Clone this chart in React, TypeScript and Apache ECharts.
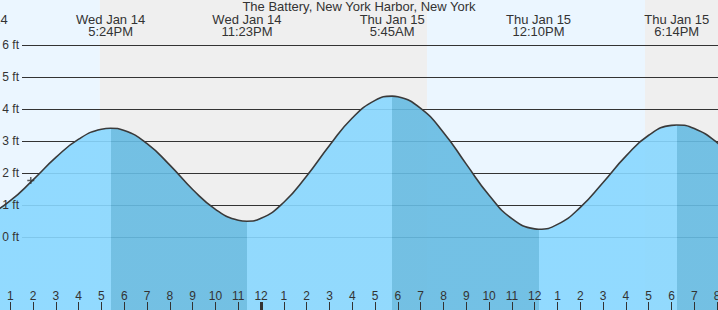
import React, { useEffect, useRef } from 'react';
import * as echarts from 'echarts';

const TITLE = 'The Battery, New York Harbor, New York';
const FONT = '"Liberation Sans", Arial, sans-serif';

// x values are hours counted from Wed Jan 14, 00:00
const X_MIN = 12.55;
const X_MAX = 44.04;
const Y_MIN = -2.27;
const Y_MAX = 7.4;

// tide height (ft)
const TIMES = [11, 11.2, 12, 13, 14, 15, 16, 17, 17.4, 18, 19, 20, 21, 22, 23, 23.38, 24, 25, 26, 27, 28, 29, 29.75, 30, 31, 32, 33, 34, 35, 36, 36.17, 37, 38, 39, 40, 41, 42, 42.23, 43, 44, 45];
const HEIGHTS = [0.61, 0.6, 0.71, 1.14, 1.79, 2.49, 3.06, 3.37, 3.4, 3.33, 2.92, 2.25, 1.49, 0.87, 0.53, 0.5, 0.59, 1.09, 1.91, 2.86, 3.72, 4.27, 4.4, 4.38, 4.02, 3.27, 2.28, 1.31, 0.58, 0.26, 0.25, 0.4, 0.93, 1.71, 2.53, 3.18, 3.49, 3.5, 3.39, 2.95, 2.27];

// high / low tide events
const EVENT_TIMES = [11.37, 17.4, 23.38, 29.75, 36.17, 42.23];
const EVENT_DATES = ['Wed Jan 14', 'Wed Jan 14', 'Wed Jan 14', 'Thu Jan 15', 'Thu Jan 15', 'Thu Jan 15'];
const EVENT_CLOCKS = ['11:22AM', '5:24PM', '11:23PM', '5:45AM', '12:10PM', '6:14PM'];

// day / night background
const BAND_STARTS = [11, 16.93, 31.28, 40.84];
const BAND_ENDS = [16.93, 31.28, 40.84, 46];
const BAND_IS_NIGHT = [0, 1, 0, 1];

const HOUR_TICKS = [13, 14, 15, 16, 17, 18, 19, 20, 21, 22, 23, 24, 25, 26, 27, 28, 29, 30, 31, 32, 33, 34, 35, 36, 37, 38, 39, 40, 41, 42, 43, 44];
const MIDNIGHT_TICKS = [24];
const FT_MIN = 0;
const FT_MAX = 6;

const NOW_POINT = [13.9, 1.77];

const DAY_BG = '#EBF6FF';
const NIGHT_BG = '#EFEFEF';
const WATER_RISING = '#88D7FF';
const WATER_FALLING = '#66BBE2';
const INK = '#333333';

export default function App() {
  const ref = useRef<HTMLDivElement>(null);

  useEffect(() => {
    document.body.style.margin = '0';
    if (!ref.current) return;
    const chart = echarts.init(ref.current, undefined, { renderer: 'svg' });

    const pieces: any[] = [{ lt: EVENT_TIMES[0], color: WATER_FALLING }];
    for (let i = 0; i < EVENT_TIMES.length - 1; i++) {
      pieces.push({ gte: EVENT_TIMES[i], lt: EVENT_TIMES[i + 1], color: i % 2 === 0 ? WATER_RISING : WATER_FALLING });
    }
    pieces.push({ gte: EVENT_TIMES[EVENT_TIMES.length - 1], color: WATER_FALLING });

    const option: any = {
      animation: false,
      title: {
        text: TITLE,
        left: 'center',
        top: 0,
        padding: 0,
        textStyle: { fontSize: 13, fontWeight: 'normal', color: INK, fontFamily: FONT },
      },
      grid: [
        { left: 0, right: 0, top: 0, bottom: 0, containLabel: false, outerBoundsMode: 'none' },
        { left: 22, right: 0, top: 45, bottom: 72.7, containLabel: false, outerBoundsMode: 'none' },
      ],
      xAxis: [
        {
          type: 'value', gridIndex: 0, min: X_MIN, max: X_MAX, position: 'bottom', z: 6,
          axisLine: { show: false, onZero: false },
          splitLine: { show: false },
          axisTick: { show: true, inside: true, length: 8, customValues: HOUR_TICKS, lineStyle: { color: INK, width: 1 } },
          axisLabel: {
            show: true, inside: true, margin: 8, customValues: HOUR_TICKS,
            fontSize: 12, color: INK, fontFamily: FONT, hideOverlap: false,
            formatter: (v: number) => String(Math.round(v) % 12 === 0 ? 12 : Math.round(v) % 12),
          },
        },
        {
          type: 'value', gridIndex: 0, min: X_MIN, max: X_MAX, position: 'bottom', z: 6,
          axisLine: { show: false, onZero: false },
          splitLine: { show: false },
          axisTick: { show: true, inside: true, length: 8, customValues: MIDNIGHT_TICKS, lineStyle: { color: INK, width: 3 } },
          axisLabel: { show: false },
        },
        { type: 'value', gridIndex: 1, min: X_MIN, max: X_MAX, show: false, axisLine: { onZero: false } },
      ],
      yAxis: [
        { type: 'value', gridIndex: 0, min: Y_MIN, max: Y_MAX, show: false, axisLine: { onZero: false } },
        {
          type: 'value', gridIndex: 1, min: FT_MIN, max: FT_MAX, interval: 1, position: 'left', z: 2,
          axisLine: { show: false, onZero: false }, axisTick: { show: false }, axisLabel: { show: false },
          splitLine: { show: true, lineStyle: { color: INK, width: 1 } },
        },
        {
          type: 'value', gridIndex: 1, min: FT_MIN, max: FT_MAX, interval: 1, position: 'left', z: 6,
          axisLine: { show: false, onZero: false }, axisTick: { show: false }, splitLine: { show: false },
          axisLabel: { show: true, margin: 3, fontSize: 12, color: INK, fontFamily: FONT, formatter: '{value} ft' },
        },
      ],
      visualMap: {
        type: 'piecewise', show: false, dimension: 0, seriesIndex: 1, pieces,
      },
      series: [
        {
          type: 'custom', xAxisIndex: 0, yAxisIndex: 0, z: 1, silent: true,
          data: BAND_STARTS.map((s, i) => [s, BAND_ENDS[i], BAND_IS_NIGHT[i]]),
          renderItem: (params: any, api: any) => {
            const a = api.coord([api.value(0), Y_MAX]);
            const b = api.coord([api.value(1), Y_MIN]);
            return {
              type: 'rect',
              shape: { x: a[0], y: a[1], width: b[0] - a[0], height: b[1] - a[1] },
              style: { fill: api.value(2) === 1 ? NIGHT_BG : DAY_BG },
            };
          },
        },
        {
          type: 'line', xAxisIndex: 0, yAxisIndex: 0, z: 3,
          data: TIMES.map((t, i) => [t, HEIGHTS[i]]),
          smooth: 0.5,
          symbol: 'none',
          showSymbol: false,
          lineStyle: { color: '#3a3a3a', width: 1.6 },
          areaStyle: { opacity: 0.9, origin: 'start' },
        },
        {
          type: 'scatter', xAxisIndex: 0, yAxisIndex: 0, z: 5, silent: true,
          data: [NOW_POINT],
          symbol: 'path://M3.6,0h1.8v3.6h3.6v1.8h-3.6v3.6h-1.8v-3.6h-3.6v-1.8h3.6z',
          symbolSize: 7,
          itemStyle: { color: INK },
        },
        {
          type: 'custom', xAxisIndex: 0, yAxisIndex: 0, z: 5, silent: true,
          data: EVENT_TIMES.map((t) => [t, 0]),
          renderItem: (params: any, api: any) => {
            const i = params.dataIndex;
            const p = api.coord([api.value(0), 0]);
            return {
              type: 'text',
              x: p[0],
              y: 13,
              style: {
                text: EVENT_DATES[i] + '\n' + EVENT_CLOCKS[i],
                align: 'center',
                verticalAlign: 'top',
                fontSize: 13,
                lineHeight: 12,
                fontFamily: FONT,
                fill: INK,
              },
            };
          },
        },
      ],
    };

    chart.setOption(option);
    return () => chart.dispose();
  }, []);

  return <div ref={ref} style={{ width: 718, height: 310 }} />;
}
